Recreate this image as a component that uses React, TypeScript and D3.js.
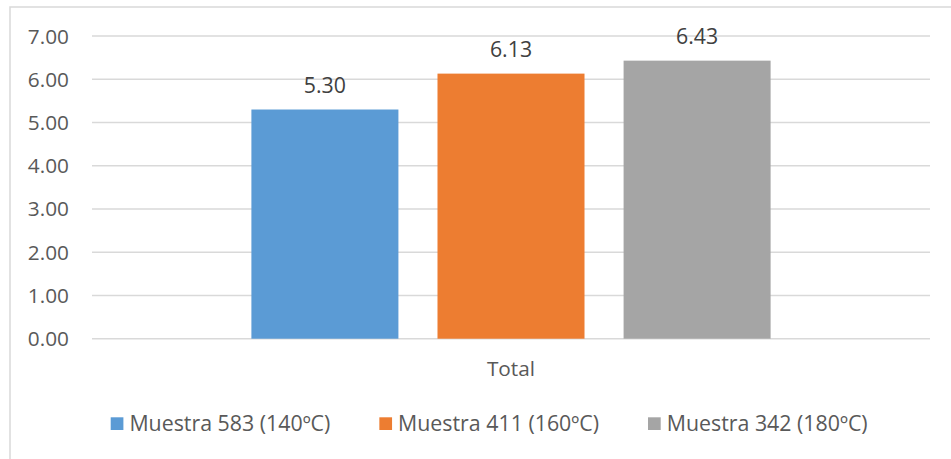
import React, { useEffect, useRef } from "react";
import * as d3 from "d3";

const categories = ["Total"];
const seriesNames = ["Muestra 583 (140ºC)", "Muestra 411 (160ºC)", "Muestra 342 (180ºC)"];
const seriesValues = [5.3, 6.13, 6.43];
const seriesColors = ["#5b9bd5", "#ed7d31", "#a5a5a5"];
const yTicks = [0, 1, 2, 3, 4, 5, 6, 7];

const W = 951;
const H = 459;
const FONT = "'Open Sans', 'Liberation Sans', sans-serif";

export default function App() {
  const ref = useRef<SVGSVGElement | null>(null);

  useEffect(() => {
    const svg = d3.select(ref.current);
    svg.selectAll("*").remove();

    const plot = { left: 92, right: 930, top: 36, bottom: 338.7 };

    const y = d3.scaleLinear().domain([0, 7]).range([plot.bottom, plot.top]);
    const x0 = d3
      .scaleBand<string>()
      .domain(categories)
      .range([plot.left, plot.right])
      .paddingInner(0)
      .paddingOuter(0.307);
    const x1 = d3
      .scaleBand<string>()
      .domain(seriesNames)
      .range([0, x0.bandwidth()])
      .paddingInner(0.21)
      .paddingOuter(0);

    // chart frame
    svg
      .append("rect")
      .attr("x", 10)
      .attr("y", 7)
      .attr("width", W + 20)
      .attr("height", H + 20)
      .attr("fill", "#ffffff")
      .attr("stroke", "#d9d9d9")
      .attr("stroke-width", 1.5);

    // gridlines
    svg
      .append("g")
      .selectAll("line")
      .data(yTicks)
      .join("line")
      .attr("x1", plot.left)
      .attr("x2", plot.right)
      .attr("y1", (d) => y(d))
      .attr("y2", (d) => y(d))
      .attr("stroke", "#d9d9d9")
      .attr("stroke-width", 1.5);

    // y tick labels
    svg
      .append("g")
      .selectAll("text")
      .data(yTicks)
      .join("text")
      .attr("x", 69)
      .attr("y", (d) => y(d) + 7.5)
      .attr("text-anchor", "end")
      .attr("font-family", FONT)
      .attr("font-size", 20.8)
      .attr("fill", "#595959")
      .text((d) => d3.format(".2f")(d));

    // bars
    const group = svg
      .append("g")
      .selectAll("g")
      .data(categories)
      .join("g")
      .attr("transform", (c) => `translate(${x0(c)},0)`);

    const rows = seriesNames.map((name, i) => ({
      name,
      value: seriesValues[i],
      color: seriesColors[i],
    }));

    group
      .selectAll("rect")
      .data(rows)
      .join("rect")
      .attr("x", (d) => x1(d.name)!)
      .attr("y", (d) => y(d.value))
      .attr("width", x1.bandwidth())
      .attr("height", (d) => y(0) - y(d.value))
      .attr("fill", (d) => d.color);

    // data labels
    group
      .selectAll("text.val")
      .data(rows)
      .join("text")
      .attr("class", "val")
      .attr("x", (d) => x1(d.name)! + x1.bandwidth() / 2)
      .attr("y", (d) => y(d.value) - 17)
      .attr("text-anchor", "middle")
      .attr("font-family", FONT)
      .attr("font-size", 21.3)
      .attr("fill", "#404040")
      .text((d) => d3.format(".2f")(d.value));

    // category label
    svg
      .append("g")
      .selectAll("text")
      .data(categories)
      .join("text")
      .attr("x", (c) => x0(c)! + x0.bandwidth() / 2)
      .attr("y", 375.5)
      .attr("text-anchor", "middle")
      .attr("font-family", FONT)
      .attr("font-size", 20.8)
      .attr("fill", "#595959")
      .text((c) => c);

    // legend
    const legend = svg.append("g");
    const sw = 12.7;
    let cx = 110.7;
    rows.forEach((d) => {
      legend
        .append("rect")
        .attr("x", cx)
        .attr("y", 417.3)
        .attr("width", sw)
        .attr("height", sw)
        .attr("fill", d.color);
      const t = legend
        .append("text")
        .attr("x", cx + sw + 6)
        .attr("y", 431)
        .attr("font-family", FONT)
        .attr("font-size", 21.35)
        .attr("fill", "#595959")
        .text(d.name);
      const tw = (t.node() as SVGTextElement).getComputedTextLength();
      cx += sw + 6 + tw + 49;
    });
  }, []);

  return (
    <svg
      ref={ref}
      width={W}
      height={H}
      style={{ position: "absolute", left: 0, top: 0, background: "#ffffff" }}
    />
  );
}
